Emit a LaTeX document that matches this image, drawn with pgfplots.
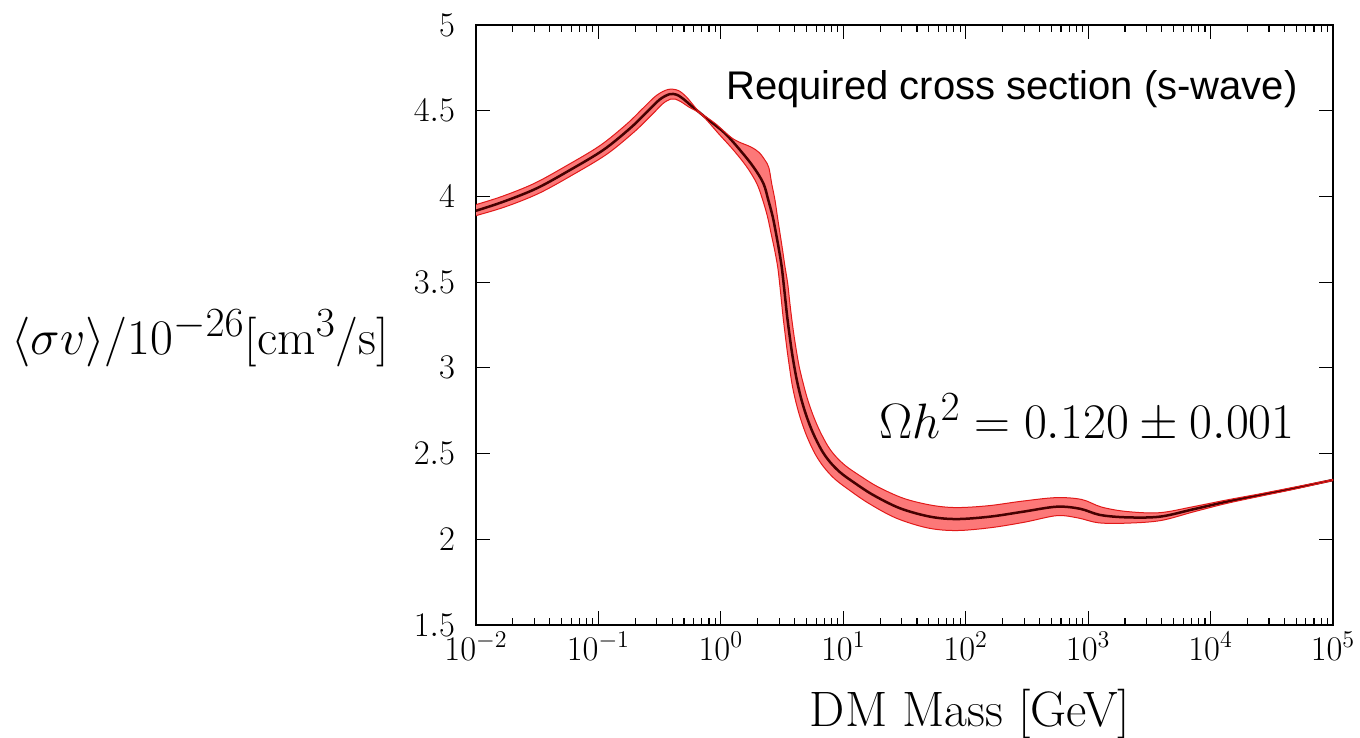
\documentclass[border=0pt]{standalone}
\usepackage{pgfplots}
\pgfplotsset{compat=1.18}
\usepackage{pgfplotstable}
\usepgfplotslibrary{fillbetween}
\usepackage{fontspec}
\newfontfamily\labsans{Liberation Sans}

\definecolor{bandfill}{RGB}{252,120,120}
\definecolor{bandedge}{RGB}{225,25,25}
\definecolor{centerline}{RGB}{70,0,0}

% L = log10(mass/GeV)
\pgfplotstableread{
L y
-2.02 3.912
-1.777 3.969
-1.505 4.047
-1.232 4.154
-0.96 4.271
-0.742 4.397
-0.60 4.495
-0.50 4.565
-0.42 4.596
-0.36 4.593
-0.30 4.565
-0.252 4.535
-0.17 4.487
-0.09 4.440
0.034 4.368
0.156 4.271
0.265 4.173
0.347 4.077
0.3875 3.979
0.4235 3.882
0.4504 3.785
0.4749 3.688
0.4970 3.590
0.5125 3.493
0.5272 3.396
0.5419 3.298
0.5590 3.202
0.5778 3.104
0.5998 3.007
0.626 2.910
0.659 2.8125
0.701 2.715
0.754 2.618
0.822 2.521
0.890 2.452
0.975 2.390
1.090 2.330
1.245 2.258
1.463 2.181
1.708 2.132
1.926 2.118
2.198 2.132
2.470 2.161
2.743 2.190
2.934 2.178
3.097 2.142
3.315 2.128
3.587 2.132
3.859 2.175
4.130 2.219
4.404 2.258
4.676 2.297
5.02 2.349
}\cdata

\pgfplotstableread{
L y
-2.02 3.948
-1.792 3.999
-1.524 4.076
-1.254 4.182
-0.986 4.297
-0.771 4.421
-0.631 4.518
-0.526 4.589
-0.431 4.624
-0.348 4.618
-0.282 4.581
-0.239 4.545
-0.17 4.489
-0.05 4.428
0.102 4.335
0.241 4.290
0.310 4.258
0.360 4.212
0.392 4.168
0.415 4.076
0.442 3.979
0.462 3.882
0.483 3.785
0.504 3.688
0.524 3.590
0.546 3.493
0.561 3.396
0.577 3.298
0.595 3.202
0.616 3.104
0.640 3.007
0.670 2.917
0.706 2.822
0.751 2.728
0.806 2.635
0.875 2.543
0.940 2.482
1.020 2.428
1.129 2.374
1.283 2.306
1.496 2.238
1.726 2.198
1.926 2.185
2.188 2.196
2.457 2.222
2.740 2.243
2.948 2.232
3.109 2.188
3.315 2.162
3.583 2.155
3.857 2.190
4.130 2.229
4.404 2.265
4.676 2.303
5.02 2.352
}\updata

\pgfplotstableread{
L y
-2.02 3.884
-1.762 3.939
-1.486 4.018
-1.210 4.126
-0.934 4.245
-0.713 4.373
-0.569 4.472
-0.474 4.541
-0.409 4.568
-0.373 4.568
-0.318 4.549
-0.265 4.523
-0.171 4.485
-0.105 4.437
-0.021 4.368
0.102 4.271
0.211 4.173
0.293 4.076
0.342 3.979
0.381 3.882
0.410 3.785
0.439 3.688
0.464 3.590
0.480 3.493
0.494 3.396
0.508 3.298
0.524 3.202
0.541 3.104
0.560 3.007
0.582 2.903
0.612 2.803
0.651 2.703
0.702 2.601
0.769 2.499
0.840 2.422
0.930 2.352
1.051 2.286
1.207 2.210
1.430 2.124
1.690 2.066
1.926 2.051
2.208 2.068
2.483 2.100
2.746 2.138
2.920 2.124
3.085 2.096
3.315 2.094
3.591 2.109
3.861 2.160
4.130 2.209
4.404 2.251
4.676 2.291
5.02 2.346
}\lodata

\begin{document}
\begin{tikzpicture}
\begin{axis}[
  name=ax,
  scale only axis,
  width=428.5pt, height=300pt,
  xmode=log,
  xmin=1e-2, xmax=1e5,
  ymin=1.5, ymax=5,
  xtick={1e-2,1e-1,1,10,100,1000,1e4,1e5},
  ytick={1.5,2,2.5,3,3.5,4,4.5,5},
  axis line style={line width=0.8pt},
  major tick length=7pt,
  minor tick length=3.5pt,
  every tick/.style={black, line width=0.6pt},
  tick label style={font=\fontsize{17.28}{20}\selectfont},
  yticklabel style={xshift=-7pt},
  every axis y label/.style={at={(rel axis cs:0,0.4667)}, anchor=base east, xshift=-40pt, yshift=-5pt, font=\fontsize{24.88}{29}\selectfont},
  every axis x label/.style={at={(rel axis cs:0.5764,0)}, anchor=base, yshift=-51pt, font=\fontsize{24.88}{29}\selectfont},
  xlabel={DM Mass [GeV]},
  ylabel={$\langle\sigma v\rangle/10^{-26}[\mathrm{cm}^3/\mathrm{s}]$},
]
\addplot[draw=none, name path=up, smooth, tension=0.55] table[x expr={10^(\thisrow{L})}, y=y] {\updata};
\addplot[draw=none, name path=lo, smooth, tension=0.55] table[x expr={10^(\thisrow{L})}, y=y] {\lodata};
\addplot[fill=bandfill, draw=none] fill between[of=up and lo];
\addplot[centerline, line width=1.25pt, smooth, tension=0.55] table[x expr={10^(\thisrow{L})}, y=y] {\cdata};
\addplot[bandedge, line width=0.5pt, smooth, tension=0.55] table[x expr={10^(\thisrow{L})}, y=y] {\updata};
\addplot[bandedge, line width=0.5pt, smooth, tension=0.55] table[x expr={10^(\thisrow{L})}, y=y] {\lodata};
\node[anchor=base east, inner sep=0pt, font=\labsans\fontsize{20}{24}\selectfont] at (rel axis cs:0.9592,0.875) {Required cross section (s-wave)};
\node[anchor=base east, inner sep=0pt, font=\fontsize{24.88}{29}\selectfont] at (rel axis cs:0.9556,0.31) {$\Omega h^2 = 0.120 \pm 0.001$};
\end{axis}
\pgfresetboundingbox
\path[use as bounding box] (ax.south west) ++(-238pt,-56.5pt) rectangle ++(680pt,369pt);
\end{tikzpicture}
\end{document}
